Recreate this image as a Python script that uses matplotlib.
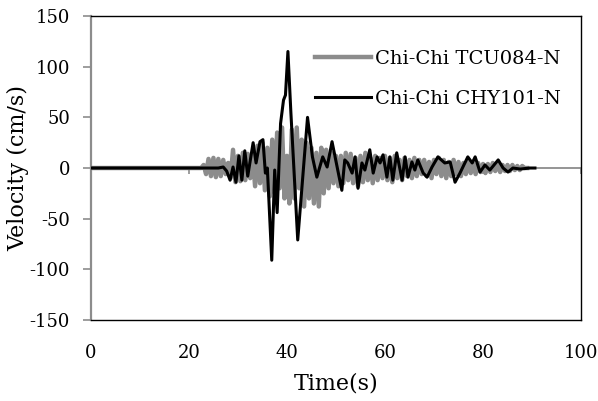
import matplotlib
matplotlib.use("Agg")
import matplotlib.pyplot as plt
import numpy as np

plt.rcParams["font.family"] = ["DejaVu Serif"]
plt.rcParams["axes.unicode_minus"] = False

# TCU084-N: uniform sampling, 0.5 s steps from 22 s
tcu_start = 22.0
tcu_step = 0.5
tcu_v = [
    0, 0, 3, -6, 9, -8, 10, -9, 9, -8, 8, -6, 5, -10, 18, -14, 12, -13, 15, -12,
    14, -10, 15, -18, 22, -15, 25, -22, 20, -28, 28, -25, 35, -20, 40, -30, 12, -35,
    38, -30, 40, -20, 28, -38, 25, -30, 20, -35, 15, -38, 20, -25, 18, -20, 15, -15,
    12, -18, 12, -15, 15, -12, 14, -15, 10, -18, 12, -14, 15, -12, 10, -15, 12, -12,
    10, -10, 12, -12, 10, -14, 12, -10, 8, -12, 10, -8, 8, -10, 10, -8, 8, -6, 8, -8,
    6, -10, 8, -6, 10, -8, 8, -10, 6, -8, 8, -6, 6, -8, 5, -6, 6, -5, 5, -6, 5, -4,
    4, -5, 4, -4, 5, -3, 4, -4, 3, -3, 3, -3, 3, -2, 2, -2, 2, 0, 0,
]

# CHY101-N
chy_t = [0, 26.0, 27.0, 27.7, 28.4, 29.0, 29.6, 30.2, 30.8, 31.4, 32.0, 33.1, 33.7,
         34.5, 35.1, 35.6, 36.0, 36.3, 36.9, 37.5, 38.0, 38.7, 39.3, 39.7, 40.2, 40.8,
         42.2, 44.2, 45.2, 46.1, 47.3, 48.2, 49.2, 51.2, 51.8, 52.4, 53.3, 53.9, 54.5,
         55.3, 55.9, 56.9, 57.6, 58.4, 59.0, 59.6, 60.4, 61.0, 61.6, 62.4, 63.5, 64.1,
         64.7, 65.5, 66.1, 66.7, 67.8, 68.6, 69.6, 70.8, 72.2, 73.3, 74.3, 75.3, 76.3,
         76.9, 77.8, 78.4, 79.4, 80.4, 81.4, 83.1, 84.1, 85.1, 86.1, 87.6, 89.6, 90.6]
chy_v = [0, 0, 1, -3, -12, 1, -14, 12, -12, 17, -8, 25, 5,
         26, 28, -5, 0, -30, -91, -2, -44, 44, 67, 72, 115, 55,
         -71, 50, 11, -9, 11, 1, 26, -22, 8, 5, -5, 11, -20,
         5, -2, 18, -5, 11, 5, 13, -9, 11, -12, 15, -12, 11,
         -9, 6, -2, 8, -5, -9, 1, 11, 5, 6, -14, -5, 5,
         11, 5, 11, -4, 3, -2, 8, 0, -4, 0, -1, 0, 0]

tcu_t = np.concatenate([[0.0], tcu_start + tcu_step * np.arange(len(tcu_v))])
tcu_vals = np.concatenate([[0.0], tcu_v])

GRAY = "#8c8c8c"

fig = plt.figure(figsize=(5.98, 4.01), dpi=100)
ax = fig.add_axes([0.152, 0.202, 0.8196, 0.758])

ax.plot(tcu_t, tcu_vals, color=GRAY, lw=3.2, label="Chi-Chi TCU084-N", zorder=3)
ax.plot(chy_t, chy_v, color="black", lw=2.2, label="Chi-Chi CHY101-N", zorder=4)

ax.set_xlim(0, 100)
ax.set_ylim(-150, 150)
ax.set_xticks(np.arange(0, 101, 20))
ax.set_yticks(np.arange(-150, 151, 50))
ax.tick_params(axis="x", length=0, labelsize=13, pad=17)
ax.tick_params(axis="y", length=6, color=GRAY, width=1.2, labelsize=13, pad=9)

for side in ("top", "right", "bottom"):
    ax.spines[side].set_color("black")
    ax.spines[side].set_linewidth(1.0)
ax.spines["left"].set_color(GRAY)
ax.spines["left"].set_linewidth(1.6)

# horizontal axis line crossing at zero velocity
sec = ax.secondary_xaxis(0.5)
for side in sec.spines:
    sec.spines[side].set_color(GRAY)
    sec.spines[side].set_linewidth(1.3)
sec.set_xticks(np.arange(0, 101, 20))
sec.tick_params(axis="x", direction="in", length=4, color=GRAY, width=1.2,
                labelbottom=False, labeltop=False)
sec.set_zorder(1)

ax.set_xlabel("Time(s)", fontsize=16, labelpad=8)
ax.set_ylabel("Velocity (cm/s)", fontsize=16, labelpad=0)

ax.legend(loc="upper left", bbox_to_anchor=(0.457, 0.889), frameon=False, fontsize=14,
          borderpad=0, borderaxespad=0, handlelength=2.9, handletextpad=0.2,
          labelspacing=1.15)

fig.savefig("out.png", dpi=100)
